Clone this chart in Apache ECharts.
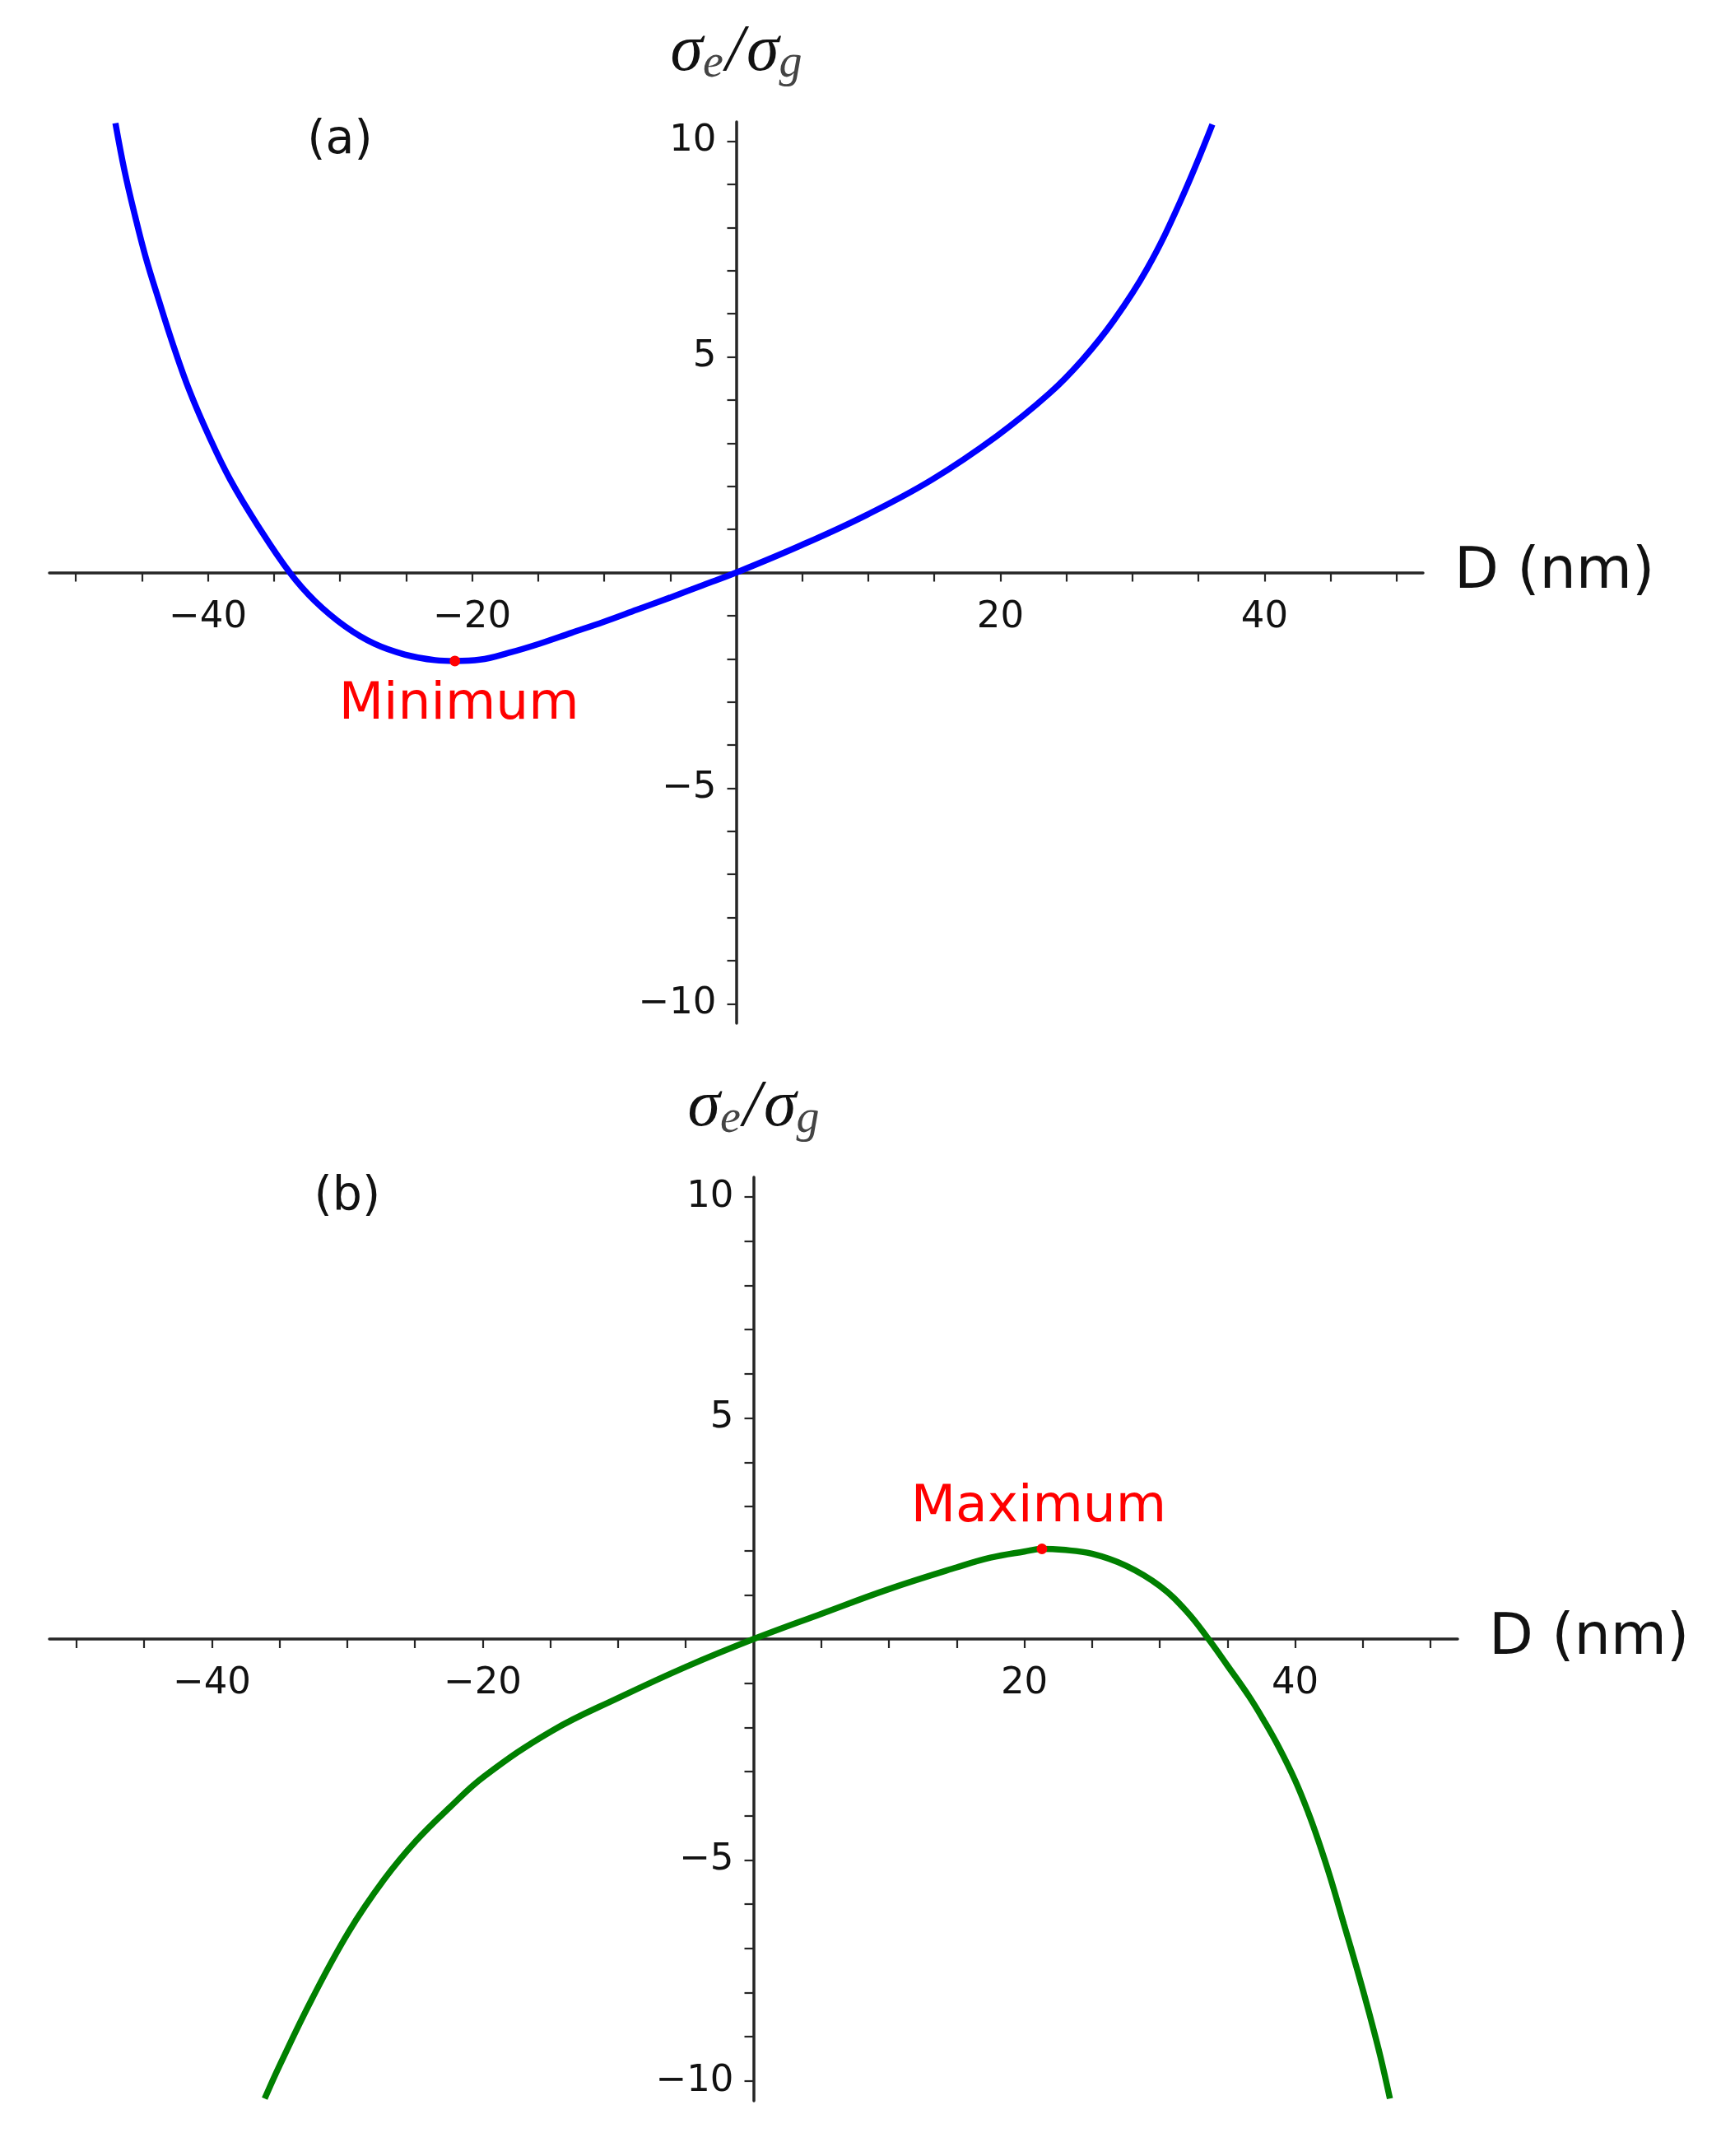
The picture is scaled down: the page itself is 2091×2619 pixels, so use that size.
<!DOCTYPE html>
<html>
<head>
<meta charset="utf-8">
<script src="https://cdn.jsdelivr.net/npm/echarts@6/dist/echarts.min.js"></script>
<style>
html,body{margin:0;padding:0;background:#fff;}
#chart{width:2091px;height:2619px;}
</style>
</head>
<body>
<div id="chart"></div>
<script>
// Panel (a): D (nm) and sigma_e/sigma_g
const aD = [-47.0,-46.3,-45.5,-44.7,-43.7,-42.6,-41.4,-39.9,-38.3,-36.2,-33.8,-31.9,-29.6,-27.4,-25.1,-22.8,-21.3,-19.4,-17.2,-14.9,-12.5,-10.0,-7.5,-5.0,-2.5,0,4.9,9.9,14.8,19.75,23.7,26.2,28.6,31.1,33.6,36.05];
const aS = [10.42,9.3,8.25,7.3,6.3,5.25,4.22,3.15,2.15,1.08,0,-0.66,-1.25,-1.65,-1.90,-2.03,-2.05,-2.02,-1.86,-1.65,-1.40,-1.14,-0.86,-0.58,-0.29,0,0.63,1.34,2.15,3.17,4.15,4.93,5.85,7.04,8.59,10.39];
// Panel (b)
const bD = [-36.1,-35.0,-32.6,-29.9,-27.3,-24.9,-22.4,-19.9,-14.9,-9.9,-5.0,0,5,10,15,17.5,20,21.3,22.8,25,27.5,30,32,33.6,35.0,36.6,37.7,38.8,40.0,41.0,41.7,42.6,43.6,44.6,45.5,46.3,47.0];
const bS = [-10.4,-9.65,-8.14,-6.63,-5.45,-4.56,-3.8,-3.11,-2.08,-1.32,-0.63,0,0.57,1.13,1.62,1.84,1.98,2.04,2.02,1.93,1.66,1.2,0.62,0,-0.6,-1.3,-1.85,-2.45,-3.2,-3.95,-4.55,-5.4,-6.45,-7.5,-8.5,-9.45,-10.4];
// Extremum points
const minPoint = [-21.3, -2.05];
const maxPoint = [21.3, 2.04];
const minLabel = 'Minimum';
const maxLabel = 'Maximum';
const panelTags = ['(a)', '(b)'];
const tagPos = [-30, 10];
// Axis ticks and labels
const xRange = [-52, 52];
const yRange = [-10.45, 10.45];
const xTicks = [-50,-45,-40,-35,-30,-25,-20,-15,-10,-5,5,10,15,20,25,30,35,40,45,50];
const xLabels = [-40,-20,20,40];
const yTicks = [-10,-9,-8,-7,-6,-5,-4,-3,-2,-1,1,2,3,4,5,6,7,8,9,10];
const yLabels = [-10,-5,5,10];
const xName = 'D (nm)';

const grids = [
  { left: 60, top: 148, width: 1669, height: 1095 },
  { left: 60, top: 1430, width: 1711, height: 1122 }
];

const zip = (xs, ys) => xs.map((x, i) => [x, ys[i]]);
const fmt = v => v < 0 ? '\u2212' + Math.abs(v) : String(v);
const AX = '#262626';
const FONT = 'DejaVu Sans';
const noBorder = { textBorderWidth: 0, textBorderColor: 'transparent', textShadowBlur: 0 };

function xAxisOpt(gi) {
  const g = grids[gi];
  // place the axis where y = 0 lies inside the grid
  const off = -g.height * (0 - yRange[0]) / (yRange[1] - yRange[0]);
  return {
    type: 'value', gridIndex: gi, min: xRange[0], max: xRange[1], position: 'bottom', offset: off,
    axisLine: { onZero: false, lineStyle: { color: AX, width: 3.5 } },
    axisTick: { customValues: xTicks, length: 11, lineStyle: { color: AX, width: 2.2 } },
    axisLabel: { customValues: xLabels, formatter: fmt, fontFamily: FONT, fontSize: 45, color: '#111', margin: 32 },
    splitLine: { show: false },
    name: xName, nameLocation: 'end', nameGap: 38,
    nameTextStyle: { fontFamily: FONT, fontSize: 70, color: '#111', verticalAlign: 'middle', padding: [0, 0, 42, 0] }
  };
}
function yAxisOpt(gi) {
  const g = grids[gi];
  const off = -g.width * (0 - xRange[0]) / (xRange[1] - xRange[0]);
  return {
    type: 'value', gridIndex: gi, min: yRange[0], max: yRange[1], position: 'left', offset: off,
    axisLine: { onZero: false, lineStyle: { color: AX, width: 3.5 } },
    axisTick: { customValues: yTicks, length: 11, lineStyle: { color: AX, width: 2.2 } },
    axisLabel: { customValues: yLabels, formatter: fmt, fontFamily: FONT, fontSize: 45, color: '#111', margin: 24 },
    splitLine: { show: false },
    name: '{s|\u03C3}{e|e}{sl|/}{s|\u03C3}{e|g}', nameLocation: 'end', nameGap: 42,
    nameTextStyle: {
      rich: {
        s: { fontFamily: 'Liberation Serif', fontStyle: 'italic', fontSize: 80, color: '#111', lineHeight: 84, verticalAlign: 'middle' },
        sl: { fontFamily: 'Liberation Serif', fontStyle: 'italic', fontSize: 80, color: '#111', lineHeight: 84, verticalAlign: 'middle', padding: [0, 3, 0, 3] },
        e: { fontFamily: 'Liberation Serif', fontStyle: 'italic', fontSize: 56, color: '#444', lineHeight: 46, verticalAlign: 'bottom' }
      }
    }
  };
}

const chart = echarts.init(document.getElementById('chart'), null, { renderer: 'canvas' });
chart.setOption({
  backgroundColor: '#fff',
  animation: false,
  grid: grids.map(g => Object.assign({ containLabel: false, outerBoundsMode: 'none' }, g)),
  xAxis: [xAxisOpt(0), xAxisOpt(1)],
  yAxis: [yAxisOpt(0), yAxisOpt(1)],
  series: [
    { type: 'line', xAxisIndex: 0, yAxisIndex: 0, data: zip(aD, aS), smooth: 0.4, showSymbol: false,
      lineStyle: { color: '#0000ff', width: 7.5 }, z: 3 },
    { type: 'line', xAxisIndex: 1, yAxisIndex: 1, data: zip(bD, bS), smooth: 0.4, showSymbol: false,
      lineStyle: { color: '#008000', width: 7.5 }, z: 3 },
    { type: 'scatter', xAxisIndex: 0, yAxisIndex: 0, data: [minPoint], symbolSize: 13, itemStyle: { color: '#ff0000', opacity: 1 }, z: 5,
      label: Object.assign({ show: true, formatter: minLabel, position: 'inside', offset: [5, 54], fontFamily: FONT, fontSize: 63, color: '#ff0000' }, noBorder) },
    { type: 'scatter', xAxisIndex: 1, yAxisIndex: 1, data: [maxPoint], symbolSize: 13, itemStyle: { color: '#ff0000', opacity: 1 }, z: 5,
      label: Object.assign({ show: true, formatter: maxLabel, position: 'inside', offset: [-4, -50], fontFamily: FONT, fontSize: 63, color: '#ff0000' }, noBorder) },
    { type: 'scatter', xAxisIndex: 0, yAxisIndex: 0, data: [tagPos], symbolSize: 0, silent: true, itemStyle: { opacity: 1 },
      label: Object.assign({ show: true, formatter: panelTags[0], position: 'inside', fontFamily: FONT, fontSize: 57, color: '#111' }, noBorder) },
    { type: 'scatter', xAxisIndex: 1, yAxisIndex: 1, data: [tagPos], symbolSize: 0, silent: true, itemStyle: { opacity: 1 },
      label: Object.assign({ show: true, formatter: panelTags[1], position: 'inside', fontFamily: FONT, fontSize: 57, color: '#111' }, noBorder) }
  ]
});
</script>
</body>
</html>
